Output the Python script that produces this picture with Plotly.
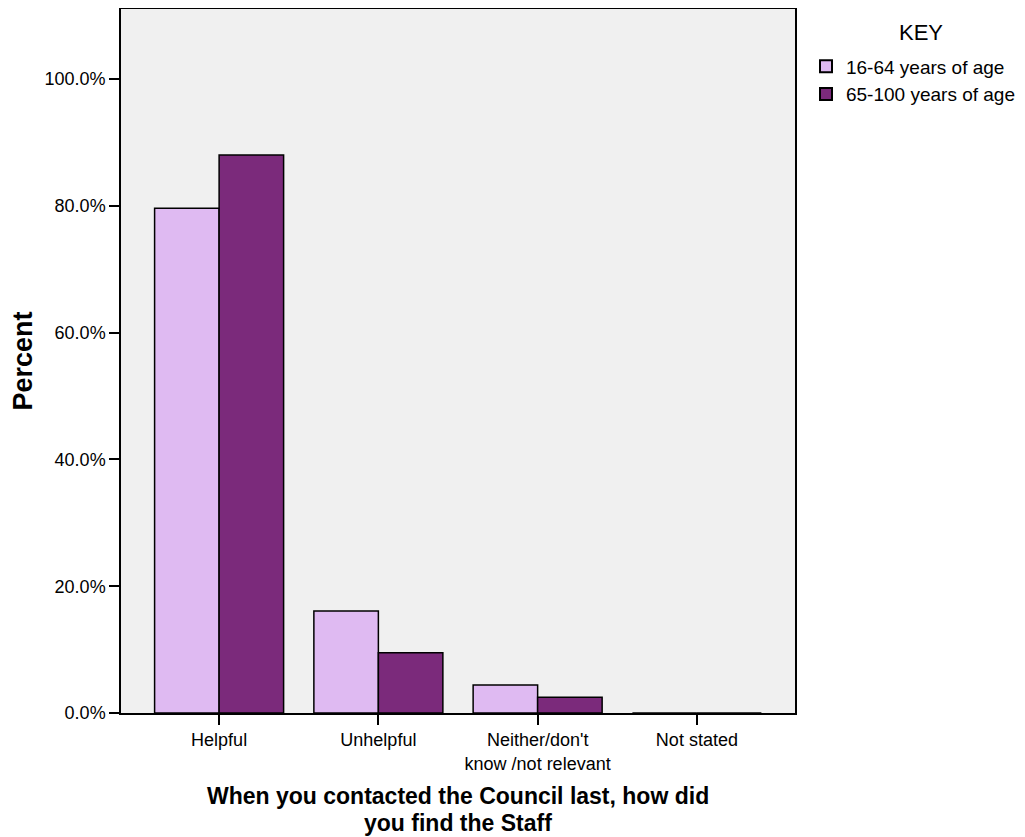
import plotly.graph_objects as go

categories = ["Helpful", "Unhelpful", "Neither/don't<br>know /not relevant", "Not stated"]
series_names = ["16-64 years of age", "65-100 years of age"]
values_16_64 = [79.6, 16.1, 4.4, 0.0]
values_65_100 = [88.0, 9.5, 2.5, 0.0]
colors = ["#DFBAF2", "#7B2A7B"]
y_ticks = [0, 20, 40, 60, 80, 100]
x_title_lines = ["When you contacted the Council last, how did", "you find the Staff"]

fig = go.Figure()
for name, vals, col in zip(series_names, [values_16_64, values_65_100], colors):
    fig.add_trace(go.Bar(
        x=list(range(len(categories))), y=vals, name=name,
        marker=dict(color=col, line=dict(color="black", width=1.5)),
    ))

for txt, yy in zip(x_title_lines, [-0.1179, -0.1563]):
    fig.add_annotation(text=f"<b>{txt}</b>", xref="paper", yref="paper",
                       x=0.5, y=yy, xanchor="center", yanchor="middle",
                       showarrow=False, font=dict(size=23, color="black"))

fig.add_annotation(text="KEY", xref="paper", yref="paper", x=1.187, y=0.967,
                   xanchor="center", yanchor="middle", showarrow=False,
                   font=dict(size=22, color="black"))

fig.update_layout(
    width=1017, height=829,
    margin=dict(l=113, r=230, t=1, b=124, autoexpand=False),
    paper_bgcolor="white", plot_bgcolor="#F0F0F0",
    barmode="group", bargap=0.19, bargroupgap=0,
    font=dict(family="Liberation Sans, Arial", size=18, color="black"),
    showlegend=True,
    legend=dict(
        x=1.0163, xanchor="left", y=0.9455, yanchor="top",
        font=dict(size=19), bgcolor="rgba(0,0,0,0)",
        itemsizing="constant", tracegroupgap=0,
    ),
    xaxis=dict(
        tickmode="array", tickvals=list(range(len(categories))), ticktext=categories,
        range=[-0.616, 3.616], showgrid=False, zeroline=False,
        showline=True, linecolor="black", linewidth=1.5, mirror=True,
        ticks="outside", ticklen=10, tickwidth=1.5, tickcolor="black",
        tickfont=dict(size=18),
    ),
    yaxis=dict(
        range=[0, 111.04], tickvals=y_ticks, ticktext=[f"{v:.1f}%" for v in y_ticks],
        showgrid=False, zeroline=False,
        showline=True, linecolor="black", linewidth=1.5, mirror=True,
        ticks="outside", ticklen=10, tickwidth=1.5, tickcolor="black",
        tickfont=dict(size=18),
        title=dict(text="<b>Percent</b>", font=dict(size=27), standoff=8),
    ),
)

fig.write_html("out.html")
